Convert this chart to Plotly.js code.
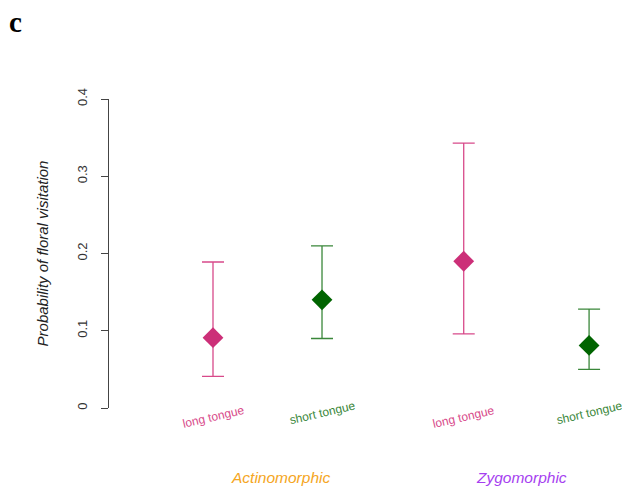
<!DOCTYPE html>
<html>
<head>
<meta charset="utf-8">
<script src="https://cdn.plot.ly/plotly-3.0.1.min.js"></script>
<style>html,body{margin:0;padding:0;background:#fff;}#chart{width:622px;height:492px;}</style>
</head>
<body>
<div id="chart"></div>
<script>
// Data
const groups = ["Actinomorphic", "Zygomorphic"];
const groupPos = [1.62, 3.83];
const tongueTypes = ["long tongue", "short tongue"];
const xPosLong = [1, 3.3];
const xPosShort = [2, 4.45];
const meanLong = [0.091, 0.190];
const upperLong = [0.189, 0.343];
const lowerLong = [0.041, 0.096];
const meanShort = [0.140, 0.081];
const upperShort = [0.210, 0.128];
const lowerShort = [0.090, 0.050];
const yTicks = [0, 0.1, 0.2, 0.3, 0.4];
const yTickLabels = ["0", "0.1", "0.2", "0.3", "0.4"];

const pinkMarker = "#cc2f78", pinkBar = "#d84a8a";
const greenMarker = "#006400", greenBar = "#3a873a";

function diffs(a, b) { return a.map((v, i) => v - b[i]); }

const traces = [
  {
    x: xPosLong, y: meanLong, type: "scatter", mode: "markers",
    marker: {symbol: "diamond", size: 16, color: pinkMarker},
    error_y: {type: "data", symmetric: false, array: diffs(upperLong, meanLong),
      arrayminus: diffs(meanLong, lowerLong), color: pinkBar, thickness: 1.3, width: 11},
    showlegend: false, hoverinfo: "skip"
  },
  {
    x: xPosShort, y: meanShort, type: "scatter", mode: "markers",
    marker: {symbol: "diamond", size: 16, color: greenMarker},
    error_y: {type: "data", symmetric: false, array: diffs(upperShort, meanShort),
      arrayminus: diffs(meanShort, lowerShort), color: greenBar, thickness: 1.3, width: 11},
    showlegend: false, hoverinfo: "skip"
  }
];

const annotations = [];
xPosLong.forEach((x) => annotations.push({
  x: x, y: -0.03, xref: "x", yref: "paper", text: tongueTypes[0], showarrow: false,
  textangle: -13, font: {family: "Liberation Sans, Arial", size: 12, color: pinkBar},
  xanchor: "center", yanchor: "middle"
}));
xPosShort.forEach((x) => annotations.push({
  x: x, y: -0.017, xref: "x", yref: "paper", text: tongueTypes[1], showarrow: false,
  textangle: -13, font: {family: "Liberation Sans, Arial", size: 12, color: greenBar},
  xanchor: "center", yanchor: "middle"
}));
const groupColors = ["#f5a623", "#a63ff0"];
groups.forEach((g, i) => annotations.push({
  x: groupPos[i], y: -0.225, xref: "x", yref: "paper", text: "<i>" + g + "</i>",
  showarrow: false, font: {family: "Liberation Sans, Arial", size: 15.5, color: groupColors[i]},
  xanchor: "center", yanchor: "middle"
}));
annotations.push({
  x: (15 - 109) / 513, y: 1 + (99 - 22) / 309, xref: "paper", yref: "paper",
  text: "<b>c</b>", showarrow: false,
  font: {family: "Liberation Serif, Times New Roman, serif", size: 29, color: "#000"},
  xanchor: "center", yanchor: "middle"
});

const layout = {
  width: 622, height: 492,
  margin: {l: 109, r: 0, t: 99, b: 84},
  paper_bgcolor: "#fff", plot_bgcolor: "#fff",
  xaxis: {range: [0.046, 4.752], showline: false, showgrid: false, zeroline: false,
    showticklabels: false, ticks: ""},
  yaxis: {range: [0, 0.4], showline: true, linecolor: "#444", linewidth: 1,
    showgrid: false, zeroline: false, ticks: "outside", ticklen: 7, tickcolor: "#444",
    tickvals: yTicks, ticktext: yTickLabels, tickangle: -90, ticklabelstandoff: 9,
    tickfont: {family: "Liberation Sans, Arial", size: 13, color: "#333"},
    title: {text: "<i>Probability of floral visitation</i>", standoff: 22,
      font: {family: "Liberation Sans, Arial", size: 15, color: "#222"}}},
  annotations: annotations
};

Plotly.newPlot("chart", traces, layout, {staticPlot: true, displayModeBar: false});
</script>
</body>
</html>
